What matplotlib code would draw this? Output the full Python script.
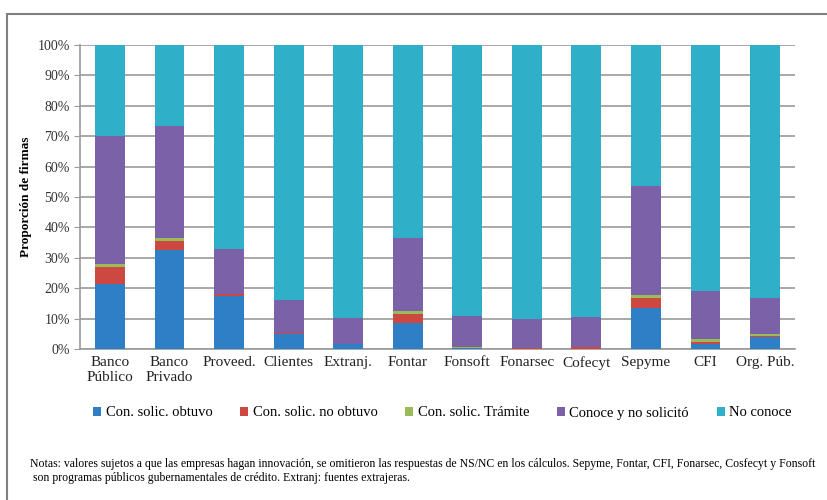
import matplotlib.pyplot as plt
import numpy as np
from matplotlib.patches import Rectangle
from matplotlib.ticker import PercentFormatter

plt.rcParams['font.family'] = ['Liberation Serif', 'DejaVu Serif']

categories = ["Banco\nPúblico", "Banco\nPrivado", "Proveed.", "Clientes", "Extranj.",
              "Fontar", "Fonsoft", "Fonarsec", "Cofecyt", "Sepyme", "CFI", "Org. Púb."]

obtuvo    = [21.5, 32.5, 17.5, 5.0, 1.5, 8.7, 0.3, 0.0, 0.0, 13.4, 1.8, 3.8]
no_obtuvo = [5.5, 3.0, 0.5, 0.3, 0.0, 2.7, 0.0, 0.3, 0.5, 3.3, 0.4, 0.4]
tramite   = [1.0, 1.0, 0.0, 0.0, 0.0, 1.1, 0.5, 0.0, 0.0, 1.1, 1.0, 0.7]
conoce    = [42.0, 37.0, 15.0, 10.7, 8.6, 24.0, 10.2, 9.5, 10.0, 35.7, 15.8, 12.0]
no_conoce = [30.0, 26.5, 67.0, 84.0, 89.9, 63.5, 89.0, 90.2, 89.5, 46.5, 81.0, 83.1]

series = [obtuvo, no_obtuvo, tramite, conoce, no_conoce]
labels = ["Con. solic. obtuvo", "Con. solic. no obtuvo", "Con. solic. Trámite",
          "Conoce y no solicitó", "No conoce"]
colors = ['#2f7fc6', '#cc4840', '#9bbb59', '#7b62a8', '#2fb0c8']

fig = plt.figure(figsize=(8.27, 5.0), dpi=100)
ax = fig.add_axes([0.097, 0.302, 0.864, 0.608])

x = np.arange(len(categories))
bottom = np.zeros(len(categories))
for vals, lab, col in zip(series, labels, colors):
    ax.bar(x, vals, bottom=bottom, width=0.5, color=col, label=lab, zorder=3)
    bottom += np.array(vals)

ax.set_xlim(-0.5, len(categories) - 0.5)
ax.set_ylim(0, 100)
ax.set_yticks(range(0, 101, 10))
ax.yaxis.set_major_formatter(PercentFormatter(decimals=0))
ax.grid(axis='y', color='#9a9a9a', linewidth=1.2, zorder=0)
ax.set_xticks(x)
ax.set_xticklabels(categories, fontsize=11, color='#222222')
ax.tick_params(axis='y', labelsize=10, labelcolor='#333333', length=4, color='#9a9a9a')
ax.tick_params(axis='x', length=0, pad=5)
for s in ['top', 'right']:
    ax.spines[s].set_visible(False)
for s in ['left', 'bottom']:
    ax.spines[s].set_color('#9a9a9a')
    ax.spines[s].set_linewidth(1.2)

ax.set_ylabel("Proporción de firmas", fontsize=9.5, fontweight='bold', labelpad=4)

fig.legend(loc='center', bbox_to_anchor=(0.535, 0.174), ncol=5, frameon=False,
           fontsize=10.5, handlelength=0.55, handleheight=0.55, handletextpad=0.3,
           columnspacing=1.9)

fig.text(0.036, 0.071, "Notas: valores sujetos a que las empresas hagan innovación, se omitieron las "
         "respuestas de NS/NC en los cálculos. Sepyme, Fontar, CFI, Fonarsec, Cosfecyt y Fonsoft",
         fontsize=8.5, va='center')
fig.text(0.04, 0.045, "son programas públicos gubernamentales de crédito. Extranj: fuentes extrajeras.",
         fontsize=8.5, va='center')

# marco exterior
fig.patches.append(Rectangle((0.0085, -0.1), 1.2, 1.072, transform=fig.transFigure,
                             fill=False, edgecolor='#808080', linewidth=1.5))

fig.savefig('out.png', dpi=100)
